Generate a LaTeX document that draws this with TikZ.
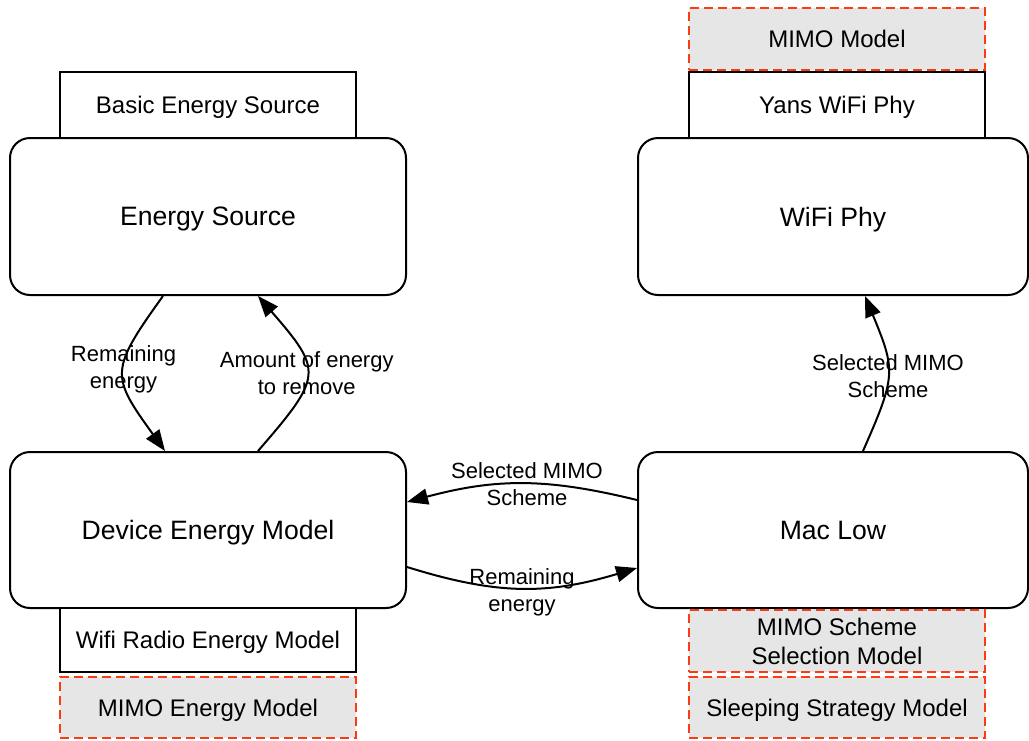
\documentclass[tikz,border=0pt]{standalone}
\usepackage{fontspec}
\setmainfont{Liberation Sans}
\usetikzlibrary{arrows.meta}
\definecolor{dashred}{RGB}{250,60,20}
\definecolor{modelgrey}{RGB}{230,230,230}

\begin{document}
\begin{tikzpicture}[x=0.5pt,y=-0.5pt,
  block/.style={draw=black, line width=1pt, rounded corners=10pt, minimum width=198pt, minimum height=78.5pt, text depth=0pt, font=\fontsize{13.3}{16}\selectfont},
  part/.style={draw=black, line width=1pt, fill=white, minimum width=148pt, minimum height=32pt, text depth=0pt, font=\fontsize{12}{14.5}\selectfont, align=center},
  extra/.style={part, draw=dashred, fill=modelgrey, dash pattern=on 4.5pt off 2.5pt},
  flow/.style={line width=1pt, -{Triangle[length=10.5pt,width=8pt]}},
  flowlabel/.style={font=\fontsize{11}{13.5}\selectfont, align=center}]
\useasboundingbox (0,0) rectangle (1029,740);
% energy side
\node[block] (src) at (208,216.5) {Energy Source};
\node[part, minimum height=33pt] (basic) at (208,105) {Basic Energy Source};
\node[block, minimum height=78pt] (dev) at (208,530) {Device Energy Model};
\node[part] (radio) at (208,640) {Wifi Radio Energy Model};
\node[extra, minimum height=30.5pt] (mimoe) at (208,707.5) {MIMO Energy Model};
% wifi side
\node[block, minimum width=195pt] (phy) at (833,216.5) {WiFi Phy};
\node[part, minimum height=33pt] (yans) at (837,105) {Yans WiFi Phy};
\node[extra, minimum height=31pt] (mimo) at (837,39) {MIMO Model};
\node[block, minimum width=195pt, minimum height=78pt] (mac) at (833,530) {Mac Low};
\node[extra, minimum height=31pt] (sel) at (837,641) {MIMO Scheme\\Selection Model};
\node[extra, minimum height=30.5pt] (sleep) at (837,707.5) {Sleeping Strategy Model};
% flows
\draw[flow] ([xshift=-22.5pt]src.south) .. controls +(-54,75) and +(-54,-75) .. node[flowlabel, yshift=2pt]{Remaining\\energy} ([xshift=-21.5pt]dev.north);
\draw[flow] ([xshift=25pt]dev.north) .. controls +(65,-75) and +(65,75) .. node[flowlabel]{Amount of energy\\to remove} ([xshift=25pt]src.south);
\draw[flow] ([yshift=15pt]mac.west) .. controls +(-90,-22) and +(90,-24) .. node[flowlabel, xshift=2.5pt]{Selected MIMO\\Scheme} ([yshift=14pt]dev.east);
\draw[flow] ([yshift=-18.5pt]dev.east) .. controls +(90,28) and +(-90,27) .. node[flowlabel, yshift=-2pt]{Remaining\\energy} ([yshift=-19pt]mac.west);
\draw[flow] ([xshift=15pt]mac.north) .. controls +(33,-75) and +(31,75) .. node[flowlabel, yshift=-1.5pt]{Selected MIMO\\Scheme} ([xshift=16pt]phy.south);
\end{tikzpicture}
\end{document}
